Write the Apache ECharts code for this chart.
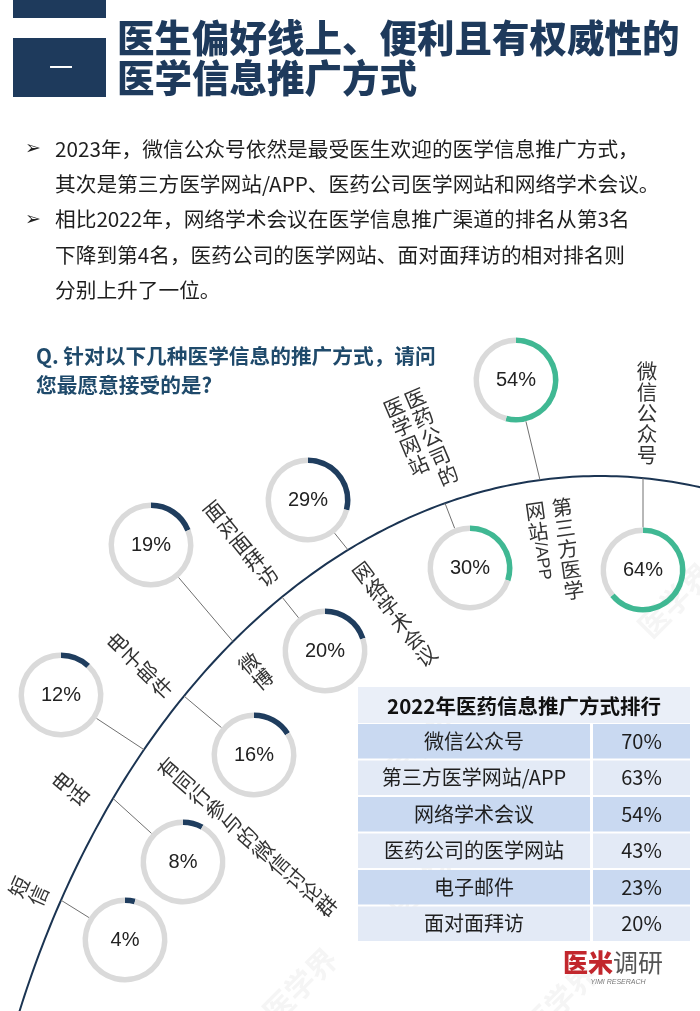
<!DOCTYPE html>
<html><head><meta charset="utf-8">
<script src="https://cdn.jsdelivr.net/npm/echarts@6/dist/echarts.min.js"></script>
<style>html,body{margin:0;padding:0;background:#fff}#c{width:700px;height:1011px}</style>
</head><body><div id="c"></div>
<script>
// ---------- data ----------
const titleLines = ['医生偏好线上、便利且有权威性的', '医学信息推广方式'];
const sectionNo = '一';
const bulletParas = [
  ['2023年，微信公众号依然是最受医生欢迎的医学信息推广方式，', '其次是第三方医学网站/APP、医药公司医学网站和网络学术会议。'],
  ['相比2022年，网络学术会议在医学信息推广渠道的排名从第3名', '下降到第4名，医药公司的医学网站、面对面拜访的相对排名则', '分别上升了一位。']
];
const questionLines = ['Q. 针对以下几种医学信息的推广方式，请问', '您最愿意接受的是?'];
const methods = ['微信公众号', '第三方医学网站/APP', '医药公司的医学网站', '网络学术会议', '面对面拜访', '微博', '电子邮件', '有同行参与的微信讨论群', '电话', '短信'];
const values2023 = [64, 54, 30, 29, 20, 19, 16, 12, 8, 4];
const tableTitle = '2022年医药信息推广方式排行';
const tableNames = ['微信公众号', '第三方医学网站/APP', '网络学术会议', '医药公司的医学网站', '电子邮件', '面对面拜访'];
const tableValues = [70, 63, 54, 43, 23, 20];
const logoRed = '医米', logoGray = '调研', logoSub = 'YIMI RESERACH';
const watermarkText = '医学界';

// ---------- layout ----------
const CJK = '"Noto Sans CJK SC", sans-serif';
const NAVY = '#1e3a5c';
const QCOL = '#1f4a6b';
const GREEN = '#40b893';
const RNAVY = '#1f3d5e';
const GRAY = '#dadada';
const ringPos = [[643,570],[516,380],[470,568],[308,500],[325,651],[151,545],[254,755],[61,695],[183,862],[125,940]];
const anchorX = [643,540,445,348,282,233,184,144,113,61];
const labelPos = [
  {x:647,y:371,deg:0,split:5},
  {x:562,y:507,deg:8,split:5,colGap:27},
  {x:415,y:398,deg:23,split:5,colGap:23},
  {x:363,y:572,deg:37},
  {x:214,y:511,deg:39.5},
  {x:249,y:663,deg:40},
  {x:117,y:643,deg:45.6},
  {x:168,y:768,deg:49},
  {x:62,y:782,deg:50},
  {x:19,y:887,deg:66}
];
const watermarkPos = [[420,745],[425,880],[300,985],[675,600],[560,1000]];
const ell = {cx:600, cy:1376, a:635, b:900};
function arcY(x){ const t=(x-ell.cx)/ell.a; return ell.cy - ell.b*Math.sqrt(Math.max(0,1-t*t)); }

const chart = echarts.init(document.getElementById('c'), null, {renderer:'canvas', width:700, height:1011});
const g = [];

// header
g.push({type:'rect', shape:{x:13,y:0,width:93,height:18}, style:{fill:NAVY}});
g.push({type:'rect', shape:{x:13,y:38,width:93,height:59}, style:{fill:NAVY}});
g.push({type:'text', x:61, y:67, style:{text:sectionNo, font:'24px '+CJK, fill:'#fff', textAlign:'center', textVerticalAlign:'middle'}});
titleLines.forEach((t,i)=>g.push({type:'text', x:117, y:38+i*40, style:{text:t, font:'900 37.5px '+CJK, fill:NAVY, textAlign:'left', textVerticalAlign:'middle'}}));

// bullets
let ly = 149;
bulletParas.forEach(p=>p.forEach((line,j)=>{
  if (j===0) g.push({type:'text', x:33, y:ly, style:{text:'➢', font:'bold 19px "DejaVu Sans"', fill:'#222', textAlign:'center', textVerticalAlign:'middle'}});
  g.push({type:'text', x:55, y:ly, style:{text:line, font:'20.7px '+CJK, fill:'#1e1e1e', textAlign:'left', textVerticalAlign:'middle'}});
  ly += 35.3;
}));

// question
questionLines.forEach((t,i)=>g.push({type:'text', x:36, y:356+i*29, style:{text:t, font:'bold 20.7px '+CJK, fill:QCOL, textAlign:'left', textVerticalAlign:'middle'}}));

// faint watermarks
watermarkPos.forEach(p=>g.push({type:'text', x:p[0], y:p[1], rotation:Math.PI/4, z:-1, style:{text:watermarkText, font:'bold 30px '+CJK, fill:'rgba(120,120,120,0.07)', textAlign:'center', textVerticalAlign:'middle'}}));

// big arc
const pts=[];
for(let d=70; d<=160; d+=0.5){ const r=d*Math.PI/180; pts.push([ell.cx+ell.a*Math.cos(r), ell.cy-ell.b*Math.sin(r)]); }
g.push({type:'polyline', shape:{points:pts}, style:{stroke:'#1b3452', lineWidth:2, fill:null}});

// connectors
ringPos.forEach((p,i)=>{
  const ax=anchorX[i], ay=arcY(ax), dx=ax-p[0], dy=ay-p[1], L=Math.hypot(dx,dy), R=42.5;
  g.push({type:'line', shape:{x1:p[0]+dx/L*R, y1:p[1]+dy/L*R, x2:ax, y2:ay}, style:{stroke:'#707070', lineWidth:1}});
});

// rotated vertical labels
methods.forEach((name,i)=>{
  const L = labelPos[i];
  const cols = L.split && name.length>L.split ? [name.slice(0,L.split), name.slice(L.split)] : [name];
  const gap = 21, colGap = L.colGap || 25;
  const children = [];
  cols.forEach((col,c)=>{
    const toks = col.match(/[A-Za-z0-9\/]+|./g);
    const x = -c*colGap;
    let cur = -gap/2;
    toks.forEach(tk=>{
      if (/^[A-Za-z0-9\/]+$/.test(tk)) {
        const w = tk.length*9.6;
        children.push({type:'text', x:x, y:cur+w/2, rotation:-Math.PI/2, style:{text:tk, font:'17px "Liberation Sans", sans-serif', fill:'#333', textAlign:'center', textVerticalAlign:'middle'}});
        cur += w;
      } else {
        children.push({type:'text', x:x, y:cur+gap/2, style:{text:tk, font:'20.5px '+CJK, fill:'#333', textAlign:'center', textVerticalAlign:'middle'}});
        cur += gap;
      }
    });
  });
  g.push({type:'group', x:L.x, y:L.y, rotation:L.deg*Math.PI/180, children});
});

// table
const tX=358, tW=332, splitX=590, hdrY=687, hdrH=36, rowH=36.5;
g.push({type:'rect', shape:{x:tX,y:hdrY,width:tW,height:hdrH}, style:{fill:'#eaeff8'}});
g.push({type:'text', x:tX+tW/2, y:hdrY+hdrH/2+1, style:{text:tableTitle, font:'bold 20.5px '+CJK, fill:'#111', textAlign:'center', textVerticalAlign:'middle'}});
tableNames.forEach((n,i)=>{
  const y = hdrY+hdrH+i*rowH;
  const fill = i%2===0 ? '#c9d9f1' : '#e3eaf6';
  g.push({type:'rect', shape:{x:tX, y:y+1, width:splitX-tX, height:rowH-2}, style:{fill}});
  g.push({type:'rect', shape:{x:splitX+3, y:y+1, width:tX+tW-splitX-3, height:rowH-2}, style:{fill}});
  g.push({type:'text', x:(tX+splitX)/2, y:y+rowH/2, style:{text:n, font:'20px '+CJK, fill:'#1e1e1e', textAlign:'center', textVerticalAlign:'middle'}});
  g.push({type:'text', x:(splitX+3+tX+tW)/2, y:y+rowH/2, style:{text:tableValues[i]+'%', font:'20px '+CJK, fill:'#1e1e1e', textAlign:'center', textVerticalAlign:'middle'}});
});

// logo
g.push({type:'text', x:563, y:962, style:{text:logoRed, font:'900 25px '+CJK, fill:'#c2272d', textAlign:'left', textVerticalAlign:'middle'}});
g.push({type:'text', x:613, y:962, style:{text:logoGray, font:'25px '+CJK, fill:'#555', textAlign:'left', textVerticalAlign:'middle'}});
g.push({type:'text', x:618, y:982, style:{text:logoSub, font:'italic 7px "Liberation Sans"', fill:'#777', textAlign:'center', textVerticalAlign:'middle'}});

// rings
const series = values2023.map((v,i)=>({
  type:'pie', center:ringPos[i], radius:[37,42.5], startAngle:90, clockwise:true, silent:true, animation:false,
  label:{show:false}, labelLine:{show:false}, emphasis:{disabled:true},
  data:[
    {value:v, name:methods[i], itemStyle:{color: i<3?GREEN:RNAVY},
     label:{show:true, position:'center', formatter:'{c}%', fontSize:20, color:'#222', fontFamily:'"Liberation Sans", Arial, sans-serif'}},
    {value:100-v, name:'other', itemStyle:{color:GRAY}}
  ]
}));

chart.setOption({backgroundColor:'#ffffff', animation:false, graphic:{elements:g}, series});
</script>
</body></html>
